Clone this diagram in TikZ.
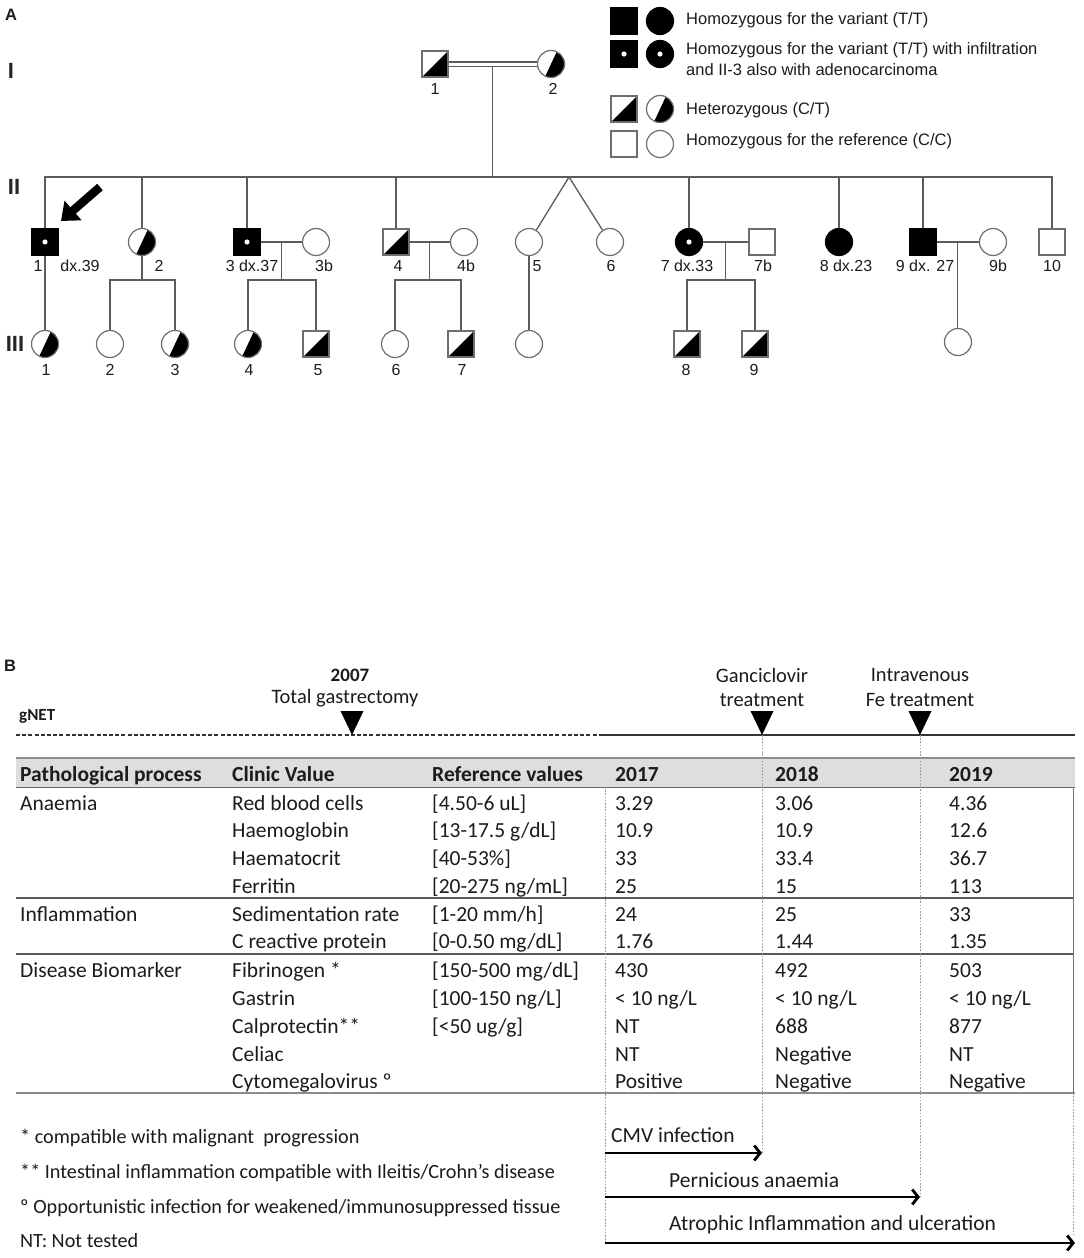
\documentclass[tikz,border=0pt]{standalone}
\usepackage{fontspec}
\setmainfont{Liberation Sans}
\newfontfamily\cbr{Carlito}
\usetikzlibrary{arrows.meta,calc}
\definecolor{lg}{HTML}{5C5C5C}
\definecolor{og}{HTML}{6E6E6E}
\definecolor{tx}{HTML}{1C1C1C}
\definecolor{hdr}{HTML}{DEDEDE}
\definecolor{dl}{HTML}{9A9A9A}
\newcommand\tc[4]{\node[cell] (#1) at (#2,#3) {#4};}
\newcommand\hc[4]{\node[hcell] (#1) at (#2,#3) {#4};}
\begin{document}
\begin{tikzpicture}[x=1pt,y=-1pt,
 pl/.style={draw=lg, line width=1.3pt},
 sym/.style={draw=og, line width=1.2pt, inner sep=0pt, fill=white},
 msq/.style={sym, rectangle, minimum size=26pt},
 fci/.style={sym, circle, minimum size=27pt},
 aff/.style={fill=black, draw=black},
 dotc/.style={aff, path picture={\fill[white] (path picture bounding box.center) circle (2.6pt);}},
 hetm/.style={path picture={\fill[black] (path picture bounding box.south west) -- (path picture bounding box.south east) -- (path picture bounding box.north east) -- cycle;}},
 hetf/.style={path picture={\fill[black] ($(path picture bounding box.center)+(245:20pt)$) -- ($(path picture bounding box.center)+(65:20pt)$) -- ($(path picture bounding box.center)+(65:20pt)+(-25:30pt)$) -- ($(path picture bounding box.center)+(245:20pt)+(-25:30pt)$) -- cycle;}},
 plab/.style={inner sep=0pt, font=\fontsize{16}{18}\selectfont, text=tx},
 gen/.style={inner sep=0pt, font=\bfseries\fontsize{22}{24}\selectfont, text=black!85},
 ltext/.style={anchor=west, inner sep=0pt, font=\fontsize{16.5}{19}\selectfont, text=tx},
 cell/.style={anchor=base west, inner sep=0pt, font=\cbr\fontsize{21.5}{24}\selectfont, text=tx},
 hcell/.style={cell, font=\cbr\bfseries\fontsize{21.5}{24}\selectfont},
 ctext/.style={inner sep=0pt, font=\cbr\fontsize{20.5}{24}\selectfont, text=tx},
 atext/.style={anchor=west, inner sep=0pt, font=\cbr\fontsize{21.5}{24}\selectfont, text=tx},
 foot/.style={anchor=west, inner sep=0pt, font=\cbr\fontsize{20.2}{23}\selectfont, text=tx},
 tline/.style={draw=black!80, line width=2pt},
 dline/.style={draw=dl, line width=0.8pt, dash pattern=on 1.6pt off 1.6pt},
 barrow/.style={draw=black, line width=2.8pt, -{Straight Barb[length=6pt,width=15pt]}},
 sep/.style={draw=black!65, line width=1.8pt},
]
\useasboundingbox[fill=white] (0,0) rectangle (1084,1258);

% ---------------- Part A ----------------
\node[inner sep=0pt, font=\bfseries\fontsize{16.5}{18}\selectfont, text=tx] (labA) at (11,15) {A};
\node[gen] (gI) at (11,71) {I};
\node[gen] (gII) at (14,187) {II};
\node[gen] (gIII) at (15,344) {III};

% legend
\node[msq, aff] (lgA1) at (624,21) {};
\node[fci, aff] (lgA2) at (660,21) {};
\node[ltext] (lgAt) at (686,20) {Homozygous for the variant (T/T)};
\node[msq, dotc] (lgB1) at (624,54) {};
\node[fci, dotc] (lgB2) at (660,54) {};
\node[ltext] (lgBt) at (686,50) {Homozygous for the variant (T/T) with infiltration};
\node[ltext] (lgBu) at (686,70) {and II-3 also with adenocarcinoma};
\node[msq, hetm] (lgC1) at (624,109) {};
\node[fci, hetf] (lgC2) at (660,109) {};
\node[ltext] (lgCt) at (686,110) {Heterozygous (C/T)};
\node[msq] (lgD1) at (624,144) {};
\node[fci] (lgD2) at (660,144) {};
\node[ltext] (lgDt) at (686,141) {Homozygous for the reference (C/C)};

% generation I
\node[msq, hetm] (I1) at (435,64) {};
\node[fci, hetf] (I2) at (551,64) {};
\node[plab] (I1l) at (435,89) {1};
\node[plab] (I2l) at (553,89) {2};
\draw[draw=lg, line width=1.1pt, double=white, double distance=3pt] (I1.east) -- (I2.west);
\coordinate (Im) at ($(I1.east)!.5!(I2.west)$);
\coordinate (sib) at (0,177);
\coordinate (s3) at (0,280);
\draw[pl] ([yshift=-2.6pt]Im) -- (Im |- sib);

% generation II
\node[msq, dotc] (II1) at (45,242) {};
\node[fci, hetf] (II2) at (142,242) {};
\node[msq, dotc] (II3) at (247,242) {};
\node[fci] (II3b) at (316,242) {};
\node[msq, hetm] (II4) at (396,242) {};
\node[fci] (II4b) at (464,242) {};
\node[fci] (II5) at (529,242) {};
\node[fci] (II6) at (610,242) {};
\node[fci, dotc] (II7) at (689,242) {};
\node[msq] (II7b) at (762,242) {};
\node[fci, aff] (II8) at (839,242) {};
\node[msq, aff] (II9) at (923,242) {};
\node[fci] (II9b) at (993,242) {};
\node[msq] (II10) at (1052,242) {};

\node[plab] (II1l) at (38,266) {1};
\node[plab] (II1d) at (80,266) {dx.39};
\node[plab] (II2l) at (159,266) {2};
\node[plab] (II3l) at (252,266) {3 dx.37};
\node[plab] (II3bl) at (324,266) {3b};
\node[plab] (II4l) at (398,266) {4};
\node[plab] (II4bl) at (466,266) {4b};
\node[plab] (II5l) at (537,266) {5};
\node[plab] (II6l) at (611,266) {6};
\node[plab] (II7l) at (687,266) {7 dx.33};
\node[plab] (II7bl) at (763,266) {7b};
\node[plab] (II8l) at (846,266) {8 dx.23};
\node[plab] (II9l) at (925,266) {9 dx. 27};
\node[plab] (II9bl) at (998,266) {9b};
\node[plab] (II10l) at (1052,266) {10};

% generation III
\node[fci, hetf] (III1) at (45,344) {};
\node[fci] (III2) at (110,344) {};
\node[fci, hetf] (III3) at (175,344) {};
\node[fci, hetf] (III4) at (248,344) {};
\node[msq, hetm] (III5) at (316,344) {};
\node[fci] (III6) at (395,344) {};
\node[msq, hetm] (III7) at (461,344) {};
\node[fci] (IIIx5) at (529,344) {};
\node[msq, hetm] (III8) at (687,344) {};
\node[msq, hetm] (III9) at (755,344) {};
\node[fci] (IIIx9) at (958,342) {};

\node[plab] (III1l) at (46,370) {1};
\node[plab] (III2l) at (110,370) {2};
\node[plab] (III3l) at (175,370) {3};
\node[plab] (III4l) at (249,370) {4};
\node[plab] (III5l) at (318,370) {5};
\node[plab] (III6l) at (396,370) {6};
\node[plab] (III7l) at (462,370) {7};
\node[plab] (III8l) at (686,370) {8};
\node[plab] (III9l) at (754,370) {9};

% sibship line II
\draw[pl] (II1.north) -- (II1.north |- sib) -- (II10.north |- sib) -- (II10.north);
\foreach \n in {II2,II3,II4,II7,II8,II9} \draw[pl] (\n.north) -- (\n.north |- sib);
\coordinate (tw) at (569,177);
\draw[pl] (tw) -- (II5);
\draw[pl] (tw) -- (II6);

% descents
\draw[pl] (II1.south) -- (III1.north);
\draw[pl] (II2.south) -- (II2.south |- s3);
\draw[pl] (III2.north) -- (III2.north |- s3) -- (III3.north |- s3) -- (III3.north);
\draw[pl] (II3.east) -- (II3b.west);
\coordinate (m3) at ($(II3.east)!.5!(II3b.west)$);
\draw[pl] (m3) -- (m3 |- s3);
\draw[pl] (III4.north) -- (III4.north |- s3) -- (III5.north |- s3) -- (III5.north);
\draw[pl] (II4.east) -- (II4b.west);
\coordinate (m4) at ($(II4.east)!.5!(II4b.west)$);
\draw[pl] (m4) -- (m4 |- s3);
\draw[pl] (III6.north) -- (III6.north |- s3) -- (III7.north |- s3) -- (III7.north);
\draw[pl] (II5.south) -- (IIIx5.north);
\draw[pl] (II7.east) -- (II7b.west);
\coordinate (m7) at ($(II7.east)!.5!(II7b.west)$);
\draw[pl] (m7) -- (m7 |- s3);
\draw[pl] (III8.north) -- (III8.north |- s3) -- (III9.north |- s3) -- (III9.north);
\draw[pl] (II9.east) -- (II9b.west);
\coordinate (m9) at ($(II9.east)!.5!(II9b.west)$);
\draw[pl] (m9) -- (m9 |- IIIx9.north);

% proband arrow
\coordinate (artail) at (100,187);
\coordinate (artip) at (61,221);
\draw[black, line width=8.5pt, -{Triangle[length=16pt,width=25pt]}] (artail) -- (artip);

% ---------------- Part B ----------------
\node[inner sep=0pt, font=\bfseries\fontsize{16.5}{18}\selectfont, text=tx] (labB) at (10,666) {B};
\node[ctext, font=\cbr\bfseries\fontsize{19}{22}\selectfont] (y2007) at (350,675) {2007};
\node[ctext] (tg) at (345,698) {Total gastrectomy};
\node[ctext, font=\cbr\bfseries\fontsize{17}{20}\selectfont, anchor=west] (gnet) at (19,716) {gNET};
\node[ctext] (gan1) at (762,675) {Ganciclovir};
\node[ctext] (gan2) at (762,700) {treatment};
\node[ctext] (fe1) at (920,675) {Intravenous};
\node[ctext] (fe2) at (920,700) {Fe treatment};

% header band
\fill[hdr] (16,759) rectangle (1075,787);
\draw[draw=black!45, line width=2.6pt] (16,758) -- (1075,758);
\draw[draw=black!60, line width=1pt] (16,787) -- (1075,787);
\draw[sep] (16,898) -- (1073,898);
\draw[sep] (16,954) -- (1073,954);
\draw[draw=black!45, line width=2.6pt] (16,1093) -- (1075,1093);
\draw[draw=black!55, line width=0.9pt] (1073,787) -- (1073,1093);

% timeline
\coordinate (tlA) at (16,735);
\coordinate (tlB) at (601,735);
\coordinate (tlC) at (1075,735);
\draw[tline, dash pattern=on 4pt off 2.2pt] (tlA) -- (tlB);
\draw[tline] (tlB) -- (tlC);
\foreach \x in {352,762,920} \fill[black] (\x-11.5,711) -- (\x+11.5,711) -- (\x,735) -- cycle;

% bottom arrows
\coordinate (aS1) at (605,1153); \coordinate (aE1) at (762,1153);
\coordinate (aS2) at (605,1197); \coordinate (aE2) at (920,1197);
\coordinate (aS3) at (605,1243); \coordinate (aE3) at (1075,1243);
\coordinate (gv) at (762,735);
\coordinate (fv) at (920,735);
\coordinate (v17) at (605,787);
\coordinate (vR) at (1073,1093);
\coordinate (vRe) at (1073,1236);
\draw[dline] (gv) -- (gv |- aE1);
\draw[dline] (fv) -- (fv |- aE2);
\draw[dline] (v17) -- (aS3);
\draw[dline] (vR) -- (vRe);
\draw[barrow] (aS1) -- (aE1);
\draw[barrow] (aS2) -- (aE2);
\draw[barrow] (aS3) -- (aE3);
\node[atext] (cmv) at (611,1135) {CMV infection};
\node[atext] (pern) at (669,1180) {Pernicious anaemia};
\node[atext] (atro) at (669,1225) {Atrophic Inflammation and ulceration};

% table header
\hc{h1}{20}{781}{Pathological process}
\hc{h2}{232}{781}{Clinic Value}
\hc{h3}{432}{781}{Reference values}
\hc{h4}{615}{781}{2017}
\hc{h5}{775}{781}{2018}
\hc{h6}{949}{781}{2019}

% rows
\tc{p1}{20}{810}{Anaemia}
\tc{c1}{232}{810}{Red blood cells}
\tc{r1}{432}{810}{[4.50-6 uL]}
\tc{a1}{615}{810}{3.29}
\tc{b1}{775}{810}{3.06}
\tc{d1}{949}{810}{4.36}

\tc{c2}{232}{837}{Haemoglobin}
\tc{r2}{432}{837}{[13-17.5 g/dL]}
\tc{a2}{615}{837}{10.9}
\tc{b2}{775}{837}{10.9}
\tc{d2}{949}{837}{12.6}

\tc{c3}{232}{865}{Haematocrit}
\tc{r3}{432}{865}{[40-53\%]}
\tc{a3}{615}{865}{33}
\tc{b3}{775}{865}{33.4}
\tc{d3}{949}{865}{36.7}

\tc{c4}{232}{893}{Ferritin}
\tc{r4}{432}{893}{[20-275 ng/mL]}
\tc{a4}{615}{893}{25}
\tc{b4}{775}{893}{15}
\tc{d4}{949}{893}{113}

\tc{p5}{20}{921}{Inflammation}
\tc{c5}{232}{921}{Sedimentation rate}
\tc{r5}{432}{921}{[1-20 mm/h]}
\tc{a5}{615}{921}{24}
\tc{b5}{775}{921}{25}
\tc{d5}{949}{921}{33}

\tc{c6}{232}{948}{C reactive protein}
\tc{r6}{432}{948}{[0-0.50 mg/dL]}
\tc{a6}{615}{948}{1.76}
\tc{b6}{775}{948}{1.44}
\tc{d6}{949}{948}{1.35}

\tc{p7}{20}{977}{Disease Biomarker}
\tc{c7}{232}{977}{Fibrinogen *}
\tc{r7}{432}{977}{[150-500 mg/dL]}
\tc{a7}{615}{977}{430}
\tc{b7}{775}{977}{492}
\tc{d7}{949}{977}{503}

\tc{c8}{232}{1005}{Gastrin}
\tc{r8}{432}{1005}{[100-150 ng/L]}
\tc{a8}{615}{1005}{< 10 ng/L}
\tc{b8}{775}{1005}{< 10 ng/L}
\tc{d8}{949}{1005}{< 10 ng/L}

\tc{c9}{232}{1033}{Calprotectin**}
\tc{r9}{432}{1033}{[<50 ug/g]}
\tc{a9}{615}{1033}{NT}
\tc{b9}{775}{1033}{688}
\tc{d9}{949}{1033}{877}

\tc{c10}{232}{1061}{Celiac}
\tc{a10}{615}{1061}{NT}
\tc{b10}{775}{1061}{Negative}
\tc{d10}{949}{1061}{NT}

\tc{c11}{232}{1088}{Cytomegalovirus º}
\tc{a11}{615}{1088}{Positive}
\tc{b11}{775}{1088}{Negative}
\tc{d11}{949}{1088}{Negative}

% footnotes
\node[foot] (f1) at (20,1138) {* compatible with malignant\ \ progression};
\node[foot] (f2) at (20,1173) {** Intestinal inflammation compatible with Ileitis/Crohn’s disease};
\node[foot] (f3) at (20,1208) {º Opportunistic infection for weakened/immunosuppressed tissue};
\node[foot] (f4) at (20,1241) {NT: Not tested};
\end{tikzpicture}
\end{document}
